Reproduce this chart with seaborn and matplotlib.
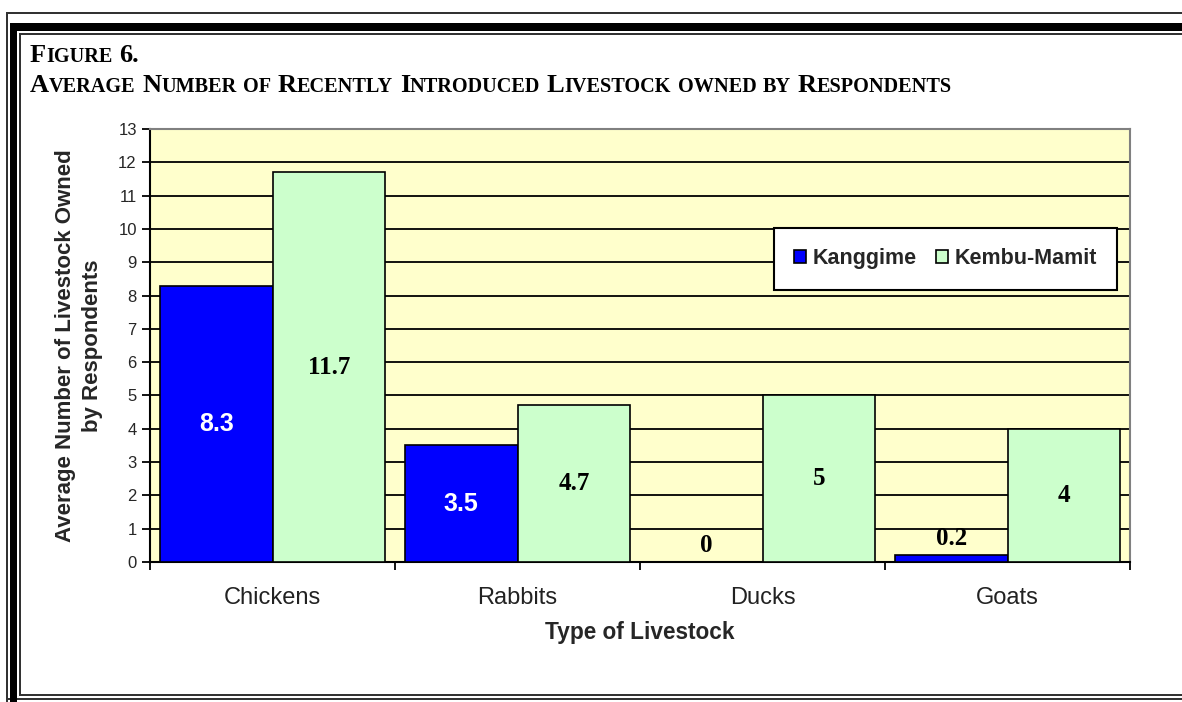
import matplotlib
matplotlib.use("Agg")
import matplotlib.pyplot as plt
from matplotlib.patches import Rectangle
from matplotlib.ticker import FixedLocator
import seaborn as sns
import pandas as pd

# ---------------- data ----------------
categories = ["Chickens", "Rabbits", "Ducks", "Goats"]
sites = ["Kanggime", "Kembu-Mamit"]
kanggime = [8.3, 3.5, 0, 0.2]
kembu_mamit = [11.7, 4.7, 5, 4]
site_colors = ["#0000FF", "#CCFFCC"]
label_colors = ["white", "black"]
y_ticks = list(range(0, 14))

title_line1 = "Figure 6."
title_line2 = "Average Number of Recently Introduced Livestock owned by Respondents"
x_label = "Type of Livestock"
y_label = "Average Number of Livestock Owned\nby Respondents"

df = pd.DataFrame({
    "Livestock": categories * 2,
    "Site": [sites[0]] * len(categories) + [sites[1]] * len(categories),
    "Value": kanggime + kembu_mamit,
})

# ---------------- figure ----------------
sns.set_style("white")
plt.rcParams["font.family"] = ["Liberation Sans", "DejaVu Sans"]

W, H = 1182, 702
fig = plt.figure(figsize=(W / 100, H / 100), dpi=100)
fig.patch.set_facecolor("white")

ax_l, ax_r, ax_t, ax_b = 150, 1130, 129, 562
ax = fig.add_axes([ax_l / W, 1 - ax_b / H, (ax_r - ax_l) / W, (ax_b - ax_t) / H])
ax.set_facecolor("#FFFFCC")

sns.barplot(data=df, x="Livestock", y="Value", hue="Site", order=categories,
            hue_order=sites, palette=site_colors, width=0.92, saturation=1,
            edgecolor="black", linewidth=1.2, ax=ax, zorder=3, errorbar=None)

ax.set_ylim(0, 13)
ax.set_xlim(-0.5, len(categories) - 0.5)
ax.yaxis.set_major_locator(FixedLocator(y_ticks))
ax.set_yticklabels([str(t) for t in y_ticks])
ax.grid(axis="y", color="black", linewidth=1.3, zorder=0)
ax.set_axisbelow(True)

for s in ["left", "bottom"]:
    ax.spines[s].set_color("black")
    ax.spines[s].set_linewidth(1.5)
for s in ["top", "right"]:
    ax.spines[s].set_color("#808080")
    ax.spines[s].set_linewidth(1.5)

ax.tick_params(axis="y", which="major", direction="out", length=6, width=1.3,
               color="black", labelsize=12, pad=3.5, left=True)
ax.tick_params(axis="x", which="major", length=0, labelsize=17, pad=18, colors="#222222")
ax.xaxis.set_minor_locator(FixedLocator([i - 0.5 for i in range(len(categories) + 1)]))
ax.tick_params(axis="x", which="minor", direction="out", length=6, width=1.3,
               color="black", bottom=True)

ax.set_xlabel(x_label, fontsize=16.3, fontweight="bold")
ax.xaxis.set_label_coords(0.5, (ax_b - 633) / (ax_b - ax_t))
ax.xaxis.label.set_verticalalignment("center")
ax.set_ylabel(y_label, fontsize=16, fontweight="bold", linespacing=1.4)
ax.yaxis.set_label_coords((79 - ax_l) / (ax_r - ax_l), 0.5)
ax.yaxis.label.set_verticalalignment("center")

# value labels
for ci, cont in enumerate(ax.containers):
    for bar in cont:
        h = bar.get_height()
        yv = h / 2 if h >= 1 else h + 0.5
        col = label_colors[ci] if h >= 1 else "black"
        fam = ["Liberation Sans"] if col == "white" else ["Liberation Serif"]
        ax.text(bar.get_x() + bar.get_width() / 2, yv, f"{h:g}",
                ha="center", va="center", fontsize=18, fontweight="bold",
                color=col, family=fam, zorder=5)

# legend
handles, labels = ax.get_legend_handles_labels()
if ax.get_legend() is not None:
    ax.get_legend().remove()
leg = ax.legend(handles, labels, ncol=2, loc="upper right",
                bbox_to_anchor=((1117 - ax_l) / (ax_r - ax_l), (ax_b - 228) / (ax_b - ax_t)),
                borderaxespad=0, frameon=True, fancybox=False, shadow=False,
                handlelength=0.55, handleheight=0.55, handletextpad=0.3,
                columnspacing=0.9, borderpad=0.95,
                prop={"family": "Liberation Sans", "weight": "bold", "size": 15.5})
leg.get_frame().set_edgecolor("black")
leg.get_frame().set_linewidth(1.5)
leg.get_frame().set_facecolor("white")
leg.get_frame().set_alpha(1)
leg.set_zorder(10)

# ---------------- frame ----------------
def prect(x0, y0, x1, y1, color):
    fig.add_artist(Rectangle((x0 / W, 1 - y1 / H), (x1 - x0) / W, (y1 - y0) / H,
                             transform=fig.transFigure, facecolor=color,
                             edgecolor="none", zorder=20))

prect(6, 12, W, 14, "#333333")
prect(6, 12, 8, H, "#333333")
prect(6, 698, W, 700, "#333333")
prect(10, 23, W, 31, "black")
prect(10, 23, 17, H, "black")
prect(19, 33, W, 35, "#333333")
prect(19, 33, 21, 696, "#333333")
prect(19, 694, W, 696, "#333333")

# ---------------- small-caps title ----------------
renderer = fig.canvas.get_renderer()
title_family = ["Liberation Serif", "DejaVu Serif"]


def draw_smallcaps(s, x0, base_y, big, small, draw=True):
    x = x0
    arts = []
    space_w = big / 72 * 100 * 0.25
    for wi, word in enumerate(s.split(" ")):
        if wi > 0:
            x += space_w
        runs = []
        for ch in word:
            bf = not ch.islower()
            if runs and runs[-1][1] == bf:
                runs[-1][0] += ch
            else:
                runs.append([ch, bf])
        for txt, bf in runs:
            t = fig.text(x / W, 1 - base_y / H, txt.upper(), fontsize=big if bf else small,
                         fontweight="bold", family=title_family, ha="left",
                         va="baseline", color="black", zorder=21)
            w = t.get_window_extent(renderer).width
            x += w
            arts.append(t)
    if not draw:
        for a in arts:
            a.remove()
    return x - x0


big0, small0 = 15.0, 11.5
nat = draw_smallcaps(title_line2, 30, 92, big0, small0, draw=False)
scale = 923 / nat
draw_smallcaps(title_line1, 30, 62, big0 * scale, small0 * scale)
draw_smallcaps(title_line2, 30, 92, big0 * scale, small0 * scale)

fig.savefig("out.png", dpi=100)
